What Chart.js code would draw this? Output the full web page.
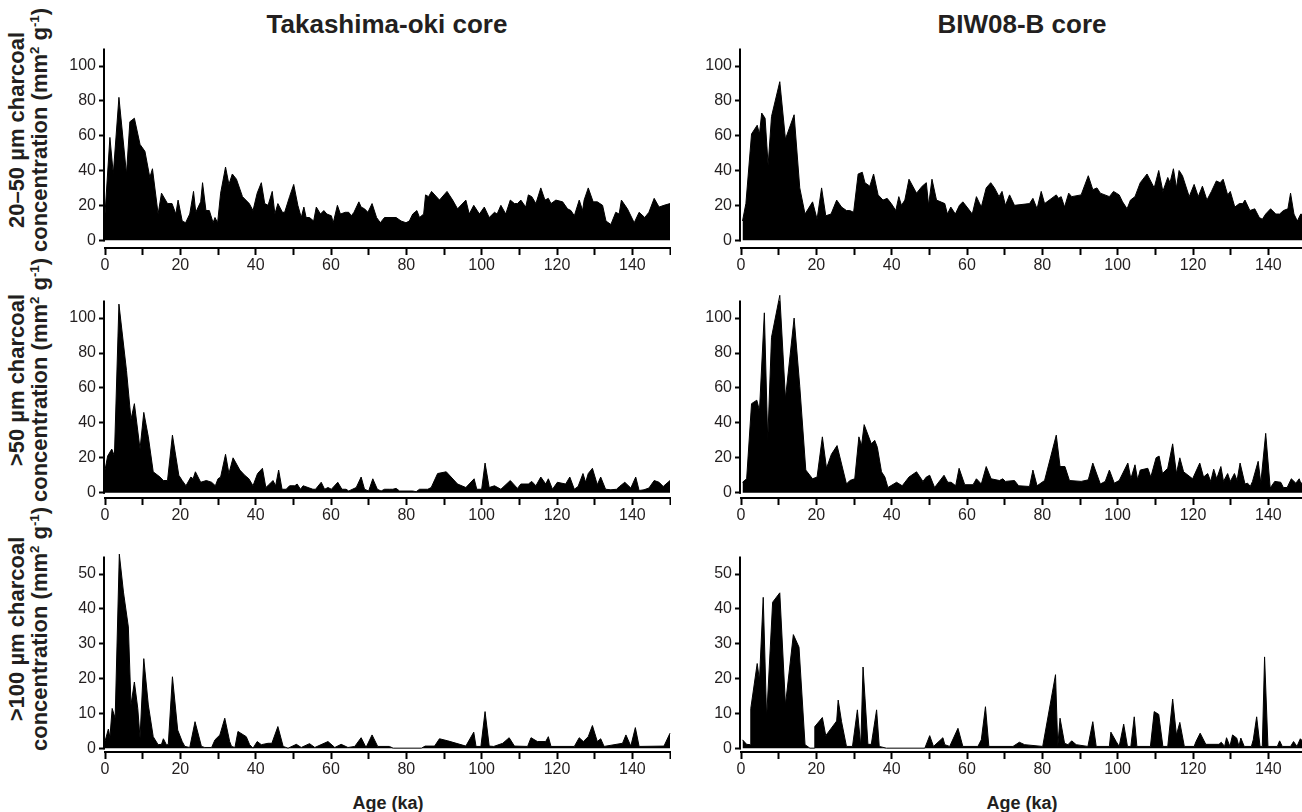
<!DOCTYPE html>
<html>
<head>
<meta charset="utf-8">
<title>Charcoal concentration</title>
<script src="https://cdn.jsdelivr.net/npm/chart.js@4.4.1/dist/chart.umd.min.js"></script>
<style>
  html, body { margin: 0; padding: 0; background: #fff; width: 1302px; height: 812px; overflow: hidden; }
  canvas { position: absolute; }
  .txt {
    position: absolute;
    font-family: "Liberation Sans", Arial, Helvetica, sans-serif;
    font-weight: bold;
    color: #231f20;
    white-space: nowrap;
    transform: translate(-50%, -50%);
  }
  .col-title { font-size: 26px; }
  .x-title { font-size: 18px; }
  .y-title {
    font-size: 22px;
    line-height: 23px;
    text-align: center;
    transform: translate(-50%, -50%) rotate(-90deg);
  }
  .y-title sup { font-size: 0.6em; line-height: 0; vertical-align: 0.6em; }
</style>
</head>
<body>

<div class="txt col-title" style="left:387px; top:24px;">Takashima-oki core</div>
<div class="txt col-title" style="left:1022px; top:24px;">BIW08-B core</div>

<div class="txt y-title" style="left:28px; top:130px;">20–50 µm charcoal<br>concentration (mm<sup>2</sup> g<sup>-1</sup>)</div>
<div class="txt y-title" style="left:28px; top:380px;">&gt;50 µm charcoal<br>concentration (mm<sup>2</sup> g<sup>-1</sup>)</div>
<div class="txt y-title" style="left:28px; top:629px;">&gt;100 µm charcoal<br>concentration (mm<sup>2</sup> g<sup>-1</sup>)</div>

<canvas id="tak2050" width="631" height="242" style="left:40px; top:36px;"></canvas>
<canvas id="biw2050" width="631" height="242" style="left:676px; top:36px;"></canvas>
<canvas id="tak50" width="631" height="240" style="left:40px; top:288px;"></canvas>
<canvas id="biw50" width="631" height="240" style="left:676px; top:288px;"></canvas>
<canvas id="tak100" width="631" height="238" style="left:40px; top:544px;"></canvas>
<canvas id="biw100" width="631" height="238" style="left:676px; top:544px;"></canvas>

<div class="txt x-title" style="left:388px; top:803px;">Age (ka)</div>
<div class="txt x-title" style="left:1022px; top:803px;">Age (ka)</div>

<script>
// Tick values
const xTickValues = [0, 10, 20, 30, 40, 50, 60, 70, 80, 90, 100, 110, 120, 130, 140, 150];
const xLabelValues = [0, 20, 40, 60, 80, 100, 120, 140];
const yTicksLarge = [0, 20, 40, 60, 80, 100];
const yTicksSmall = [0, 10, 20, 30, 40, 50];

// Takashima-oki core, 20-50 um
const tak2050Age = [
  0, 1.3, 2.2, 3.7, 5.7, 6.6, 7.8, 9.3, 10.6, 11.9,
  12.6, 14.1, 15.0, 16.6, 17.8, 18.8, 19.4, 20.5, 21.4, 22.5,
  23.5, 24.1, 25.4, 25.9, 26.8, 27.7, 28.7, 29.2, 29.9, 30.7,
  32.0, 32.9, 33.8, 34.9, 36.5, 38.3, 39.3, 40.4, 41.5, 42.4,
  43.3, 44.4, 45.1, 45.9, 47.1, 47.7, 49.0, 50.1, 51.2, 52.1,
  52.8, 53.4, 54.3, 55.4, 56.1, 57.2, 58.1, 58.9, 60.1, 60.6,
  61.7, 62.5, 63.8, 64.7, 65.4, 66.1, 67.4, 68.0, 68.9, 69.8,
  70.9, 72.1, 73.1,
  74.2, 77.3, 78.6, 79.9, 80.8, 81.7, 82.8, 83.5, 84.6, 85.1,
  85.9, 86.7, 88.8, 90.8, 92.3, 93.6, 95.8, 96.7, 97.9, 99.4,
  100.7, 102.0, 103.4, 104.1, 105.1, 106.4, 107.6, 108.7, 109.5, 110.4,
  111.7, 112.4, 113.3, 114.4, 115.7, 116.8, 117.7, 118.4, 119.7, 121.5,
  122.8, 123.7, 124.6, 125.9, 126.8, 127.2, 128.3, 129.6, 130.7, 132.1,
  133.0, 134.3, 135.6, 136.5, 137.1, 138.7, 140.5, 141.8, 143.3, 144.4,
  145.8, 147.1, 148.4, 150.0
];
const tak2050 = [
  15, 59, 38, 82, 38, 68, 70, 55, 51, 36,
  41, 15, 27, 21, 21, 15, 23, 11, 10, 15,
  28, 16, 22, 33, 17, 17, 10, 13, 10, 27,
  42, 32, 38, 35, 25, 21, 17, 27, 33, 21,
  20, 28, 15, 21, 16, 16, 25, 32, 20, 13,
  19, 13, 13, 11, 19, 15, 17, 15, 14, 10,
  20, 15, 16, 16, 14, 16, 22, 19, 18, 16,
  21, 13, 10,
  13, 13, 11, 10, 11, 15, 17, 13, 15, 26,
  25, 28, 23, 28, 23, 18, 23, 15, 20, 15,
  19, 13, 16, 15, 20, 15, 23, 21, 21, 23,
  19, 26, 25, 21, 30, 23, 24, 21, 23, 22,
  18, 17, 14, 23, 17, 23, 30, 22, 22, 20,
  11, 9, 16, 15, 23, 18, 10, 16, 13, 16,
  24, 19, 20, 21
];

// BIW08-B core, 20-50 um
const biw2050Age = [
  0.4, 1.3, 2.8, 4.3, 4.9, 5.5, 6.4, 7.2, 8.1, 10.3,
  11.8, 14.1, 15.6, 17.0, 19.0, 20.2, 21.4, 22.5, 23.9, 25.4,
  26.7, 28.0, 28.9, 29.9, 31.1, 32.2, 32.9, 34.2, 35.2, 36.4,
  37.7, 38.8, 39.9, 41.1, 41.9, 42.6, 43.5, 44.6, 46.6, 48.1,
  49.2, 49.8, 50.7, 51.9, 54.1, 54.8, 55.7, 56.9, 58.0, 58.9,
  60.0, 61.4, 62.5, 63.8, 65.1, 66.3, 67.3, 68.5, 69.3, 70.2,
  71.3,
  72.6, 76.6, 77.5, 78.6, 79.7, 80.6, 83.7, 84.3, 85.0, 85.9,
  87.0, 87.8, 90.3, 92.2, 93.4, 94.5, 95.4, 97.8, 98.9, 100.4,
  101.3, 102.5, 103.4, 104.6, 106.0, 107.8, 109.7, 110.9, 112.0, 113.3,
  113.9, 114.8, 115.6, 116.3, 117.2, 119.0, 120.3, 121.4, 122.5, 123.7,
  124.9, 126.2, 127.2, 128.0, 129.2, 129.9, 131.1, 132.3, 133.2, 133.8,
  135.1, 136.4, 137.6, 138.4, 139.3, 140.6, 142.0, 143.0, 144.0, 145.2,
  145.9, 146.8, 147.7, 148.6, 150.0
];
const biw2050 = [
  11, 21, 61, 66, 61, 73, 70, 43, 71, 91,
  58, 72, 30, 15, 22, 12, 30, 14, 15, 23,
  19, 17, 17, 16, 38, 39, 33, 31, 38, 26,
  23, 24, 21, 17, 25, 20, 23, 35, 27, 31,
  33, 20, 35, 23, 21, 15, 19, 15, 20, 22,
  19, 15, 25, 19, 30, 33, 30, 25, 28, 20,
  26,
  20, 21, 24, 18, 28, 21, 26, 24, 25, 19,
  27, 25, 26, 37, 29, 30, 27, 25, 28, 26,
  22, 18, 23, 25, 33, 38, 30, 40, 28, 36,
  33, 41, 30, 40, 37, 25, 32, 25, 31, 23,
  28, 34, 33, 35, 26, 28, 19, 21, 21, 23,
  17, 18, 13, 12, 15, 18, 15, 15, 17, 18,
  27, 15, 11, 15, 14
];

// Takashima-oki core, >50 um
const tak50Age = [
  0, 0.7, 1.8, 2.5, 3.7, 5.7, 6.9, 7.8, 9.3, 10.3,
  11.5, 12.8, 14.6, 15.5, 16.6, 17.9, 19.6, 20.5, 21.5, 22.8,
  23.4, 24.0, 25.4, 26.9, 28.3, 29.3, 30.0, 30.7, 32.0, 32.9,
  34.0, 35.8, 37.1, 38.2, 39.3, 40.5, 41.8, 42.7, 43.7, 44.6,
  45.3, 46.1, 47.0, 48.1, 49.0, 50.4, 51.0, 51.9, 52.6, 53.9,
  55.2, 55.9, 57.4, 58.3, 59.2, 60.1, 61.8, 62.9, 64.0, 64.7,
  66.7, 68.0, 68.9, 70.0, 71.1, 72.3, 73.3,
  74.2, 75.5, 76.4, 77.3, 78.2, 81.7, 82.6, 83.5, 85.7, 86.6,
  88.3, 90.6, 93.6, 95.8, 98.0, 98.7, 100.0, 100.9, 102.0, 103.4,
  105.1, 107.6, 109.5, 110.4, 112.4, 113.3, 114.4, 115.7, 117.0, 117.7,
  118.8, 120.1, 122.3, 123.4, 124.6, 125.6, 126.9, 127.6, 128.3, 129.4,
  130.7, 131.6, 132.9, 134.3, 135.8, 136.6, 138.0, 139.6, 140.9, 141.8,
  143.1, 144.4, 145.8, 147.1, 148.2, 150.0
];
const tak50 = [
  13, 21, 25, 21, 108, 70, 42, 51, 25, 46,
  32, 12, 9, 7, 7, 33, 10, 7, 4, 9,
  8, 12, 6, 7, 6, 4, 8, 9, 22, 11,
  20, 13, 10, 8, 4, 11, 14, 3, 5, 7,
  4, 13, 2, 2, 4, 4, 5, 2, 4, 3,
  2, 2, 6, 2, 3, 2, 6, 2, 2, 1,
  3, 9, 2, 1, 8, 2, 1,
  2, 2, 2, 2.5, 1, 1, 0.6, 2, 2, 3,
  11, 12, 5, 3, 8, 2, 2, 17, 3, 4,
  2, 7, 2.5, 5, 5, 6.5, 4, 9, 5, 8,
  2, 6, 5, 9, 2, 3.6, 11, 6, 11, 14,
  4.6, 9, 2, 1.7, 2, 3.6, 6, 2.7, 9, 1.3,
  1.7, 2.7, 7, 6, 3.6, 7
];

// BIW08-B core, >50 um
const biw50Age = [
  0.4, 1.5, 2.8, 4.2, 4.9, 6.2, 7.1, 8.1, 10.3, 11.8,
  14.1, 15.6, 17.2, 19.0, 20.2, 21.6, 22.7, 24.0, 25.5, 28.0,
  28.9, 30.2, 31.3, 32.0, 32.7, 34.6, 35.5, 36.2, 37.3, 38.2,
  39.0, 41.3, 42.8, 44.6, 46.6, 48.3, 49.2, 50.1, 51.4, 53.9,
  54.9, 55.8, 57.0, 57.9, 59.4, 61.6, 62.5, 63.8, 65.1, 66.4,
  68.6, 69.5, 70.2,
  72.6, 73.7, 76.6, 77.5, 78.6, 80.6, 83.7, 84.7, 86.0, 87.2,
  90.3, 92.2, 93.4, 95.4, 96.7, 97.8, 99.1, 100.4, 102.7, 103.5,
  104.6, 105.3, 106.0, 108.0, 108.8, 110.2, 111.0, 111.9, 113.3, 114.6,
  115.6, 116.5, 117.5, 119.9, 121.8, 122.8, 123.9, 124.7, 125.5, 126.3,
  127.4, 128.1, 129.2, 129.9, 131.0, 131.7, 132.5, 133.8, 134.5, 135.2,
  135.8, 137.3, 138.0, 139.3, 140.5, 141.7, 143.3, 144.0, 145.0, 146.1,
  147.3, 148.2, 148.6, 150.0
];
const biw50 = [
  6, 8, 51, 53, 47, 103, 30, 89, 113, 54,
  100, 61, 13, 8, 9, 32, 14, 22, 27, 5,
  7, 8, 32, 27, 39, 28, 30, 26, 12, 9,
  3, 6, 4, 9, 12, 6.5, 9, 10, 3, 10,
  6, 6, 4, 14, 4.6, 4.6, 8, 5, 15, 8,
  7, 8, 6.5,
  7, 4, 3.6, 13, 4, 7, 33, 15, 15, 7,
  6.5, 7.4, 17, 5, 6.5, 13, 5.5, 7, 17, 8,
  16, 7.4, 13, 14, 9, 20, 21, 11, 14, 28,
  11, 20, 12, 8, 17, 9, 11, 6.5, 13.5, 8,
  15, 6.5, 11, 6.5, 11, 7, 17, 5, 5.5, 3.6,
  6.5, 18, 5.5, 34, 2.7, 6.5, 6, 3, 3, 8,
  5.5, 8, 5.5, 6
];

// Takashima-oki core, >100 um
const tak100Age = [
  0, 0.9, 1.3, 1.9, 2.7, 3.8, 4.9, 6.2, 6.9, 7.8,
  8.7, 9.3, 10.3, 11.5, 12.8, 14.1, 15.0, 15.5, 16.3, 16.8,
  17.9, 19.3, 20.5, 21.2, 22.5, 23.9, 25.6, 26.5, 28.3, 29.2,
  30.5, 31.8, 33.1, 33.6, 34.5, 35.3, 37.5, 38.4, 39.3, 40.4,
  41.5, 43.3, 44.3, 45.9, 47.3, 48.6, 50.8, 52.1, 54.3, 55.7,
  59.2, 61.0, 62.7, 64.5, 66.3, 68.0, 69.3, 70.9, 72.4, 75.5,
  76.5, 84.0,
  85.0, 87.5, 88.8, 91.0, 95.8, 97.9, 98.5, 99.8, 100.9, 102.0,
  103.2, 105.6, 107.3, 108.7, 112.2, 113.1, 114.8, 117.0, 117.7, 118.4,
  124.6, 125.9, 127.0, 128.3, 129.4, 130.7, 131.6, 132.5, 137.4, 138.3,
  139.6, 140.8, 141.8, 148.4, 150.0
];
const tak100 = [
  2, 5.5, 3, 11.4, 8.6, 55.7, 44.8, 34.8, 12.4, 19,
  11.4, 2.9, 25.7, 12.4, 3.3, 1, 1.1, 2.7, 1, 1,
  20.5, 5.2, 1.9, 0.5, 0.2, 7.6, 0.5, 0.2, 0.2, 2.4,
  3.8, 8.6, 1.9, 0.5, 0.2, 4.8, 3.3, 1, 0, 1.9,
  1, 1.4, 1.4, 6.2, 0.5, 0, 1.1, 0.2, 1.3, 0.2,
  1.9, 0.2, 1.1, 0.2, 0.5, 3, 0.2, 3.8, 0.5, 0.5,
  0, 0,
  0.6, 0.6, 2.7, 2.1, 0.6, 4.6, 0.5, 0.5, 10.5, 0.6,
  0.5, 1.4, 3, 0.6, 0.5, 3, 1.9, 1.9, 3.3, 0.5,
  0.5, 3, 1.9, 3.3, 6.5, 1.9, 2.7, 0.5, 1.4, 3.8,
  0.6, 5.9, 0.5, 0.6, 4.3
];

// BIW08-B core, >100 um
const biw100Age = [
  0.4, 1.5, 2.5, 2.6, 4.3, 4.9, 5.9, 6.8, 8.4, 10.3,
  11.8, 13.9, 15.4, 17.0, 18.3, 19.4, 19.6, 21.6, 22.5, 25.4,
  25.8, 26.7, 28.0, 29.6, 30.9, 31.8, 32.4, 33.7, 34.6, 36.0,
  36.7, 38.6, 48.8, 50.1, 51.1, 53.6, 54.1, 55.4, 57.6, 58.9,
  62.9, 63.8, 64.9, 65.8, 72.2,
  73.9, 75.3, 80.1, 83.5, 84.1, 84.7, 85.9, 86.8, 87.8, 89.0,
  92.1, 93.4, 94.3, 97.8, 98.2, 99.6, 100.4, 101.6, 102.6, 103.5,
  104.4, 105.1, 108.7, 109.7, 110.9, 112.0, 113.3, 114.6, 115.6, 116.5,
  117.7, 120.3, 120.8, 121.9, 123.4, 126.9, 127.5, 128.4, 128.9, 129.8,
  130.5, 131.6, 132.2, 132.7, 133.6, 135.5, 136.0, 136.9, 137.8, 138.4,
  139.0, 139.9, 142.4, 143.0, 143.7, 145.9, 146.7, 147.6, 148.5, 150.0
];
const biw100 = [
  2.4, 1.1, 1, 11.4, 24.3, 19.5, 43.3, 8.6, 41.9, 44.6,
  12.4, 32.6, 29, 1, 0, 0, 6.2, 8.8, 3.6, 7.8,
  13.8, 7.6, 0.5, 0.5, 11, 0.5, 23.3, 1.1, 1.1, 11,
  0.5, 0, 0, 3.6, 0.5, 3, 1, 0.5, 5.7, 0.5,
  0.5, 2.4, 11.9, 0.5, 0.5,
  1.7, 1, 0.5, 21.1, 0.5, 8.6, 1.4, 1, 2.1, 1,
  0.5, 7.6, 0.5, 0.5, 4.6, 1.9, 0.5, 6.9, 0.5, 0.5,
  9, 0.5, 0.5, 10.5, 9.7, 0.5, 0.5, 14.1, 3.8, 7.4,
  0.5, 0.5, 1.9, 4.3, 1.1, 1.1, 1.7, 0.5, 3, 0.5,
  3.8, 2.9, 0.5, 2.9, 0.5, 0.5, 2.4, 9, 0.5, 0.5,
  26.2, 0.5, 0.5, 2.1, 0.5, 0.5, 1.9, 0.5, 2.7, 1
];

Chart.defaults.font.family = '"Liberation Sans", Arial, Helvetica, sans-serif';
Chart.defaults.color = '#231f20';

// y axis line only runs from the top down to zero, x axis sits a little below
const yAxisLine = {
  id: 'yAxisLine',
  afterDatasetsDraw(chart) {
    const { ctx, chartArea, scales: { y } } = chart;
    ctx.save();
    ctx.strokeStyle = '#000';
    ctx.lineWidth = 2;
    ctx.beginPath();
    ctx.moveTo(chartArea.left - 1, y.getPixelForValue(y.max));
    ctx.lineTo(chartArea.left - 1, y.getPixelForValue(0) + 1);
    ctx.stroke();
    ctx.restore();
  }
};

function makePanel(canvasId, ages, vals, yMin, yMax, yTicks) {
  const points = ages.map((a, i) => ({ x: a, y: vals[i] }));
  return new Chart(document.getElementById(canvasId), {
    type: 'line',
    data: {
      datasets: [{
        data: points,
        borderColor: '#000',
        borderWidth: 1,
        backgroundColor: '#000',
        fill: 'origin',
        pointRadius: 0,
        tension: 0,
        clip: false
      }]
    },
    options: {
      responsive: false,
      animation: false,
      layout: { padding: { top: 12, left: 0, right: 0, bottom: 0 } },
      plugins: {
        legend: { display: false },
        tooltip: { enabled: false }
      },
      scales: {
        x: {
          type: 'linear',
          min: 0,
          max: 150,
          afterBuildTicks: s => { s.ticks = xTickValues.map(v => ({ value: v })); },
          afterFit: s => { s.height = 30; },
          border: { display: true, width: 2, color: '#000' },
          grid: { drawOnChartArea: false, tickLength: 7, tickWidth: 2, tickColor: '#000' },
          ticks: {
            autoSkip: false,
            maxRotation: 0,
            minRotation: 0,
            padding: 1,
            font: { size: 16 },
            color: '#231f20',
            callback: v => xLabelValues.includes(v) ? String(v) : ''
          }
        },
        y: {
          min: yMin,
          max: yMax,
          afterBuildTicks: s => { s.ticks = yTicks.map(v => ({ value: v })); },
          afterFit: s => { s.width = 65; },
          border: { display: false },
          grid: { drawOnChartArea: false, tickLength: 6, tickWidth: 2, tickColor: '#000' },
          ticks: { padding: 3, font: { size: 16 }, color: '#231f20' }
        }
      }
    },
    plugins: [yAxisLine]
  });
}

makePanel('tak2050', tak2050Age, tak2050, -4.5, 110, yTicksLarge);
makePanel('biw2050', biw2050Age, biw2050, -4.5, 110, yTicksLarge);
makePanel('tak50', tak50Age, tak50, -3, 110, yTicksLarge);
makePanel('biw50', biw50Age, biw50, -3, 110, yTicksLarge);
makePanel('tak100', tak100Age, tak100, -1.1, 55, yTicksSmall);
makePanel('biw100', biw100Age, biw100, -1.1, 55, yTicksSmall);
</script>
</body>
</html>
